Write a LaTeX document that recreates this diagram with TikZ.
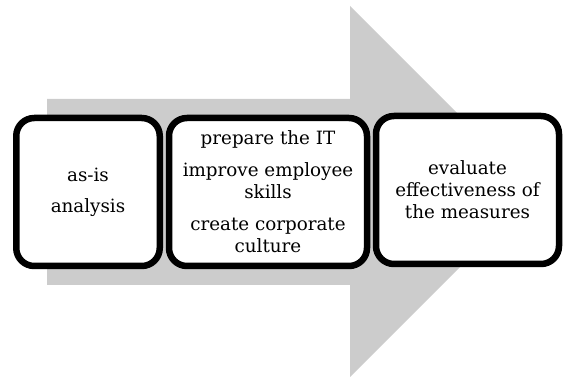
\documentclass[tikz,border=0pt]{standalone}
\usepackage{fontspec}
\setmainfont{DejaVu Serif}
\usetikzlibrary{positioning}
\definecolor{flowgray}{RGB}{204,204,204}

\begin{document}
\begin{tikzpicture}[
  x=1pt, y=-1pt,
  stage/.style={draw, line width=6.5pt, rounded corners=18pt, fill=white,
    minimum height=148pt, align=center, inner sep=0pt,
    font=\fontsize{18.3}{22}\selectfont},
]
  \useasboundingbox (0,0) rectangle (563,377);

  % big arrow behind the stages
  \fill[flowgray] (47,99) -- (350,99) -- (350,6) -- (535.5,191.5)
    -- (350,377) -- (350,285) -- (47,285) -- cycle;

  \node[stage, minimum width=143.5pt] (asis) at (88,192) {as-is\\[9pt]analysis};
  \node[stage, minimum width=198pt, right=2.75pt of asis] (improve)
    {prepare the IT\\[10pt]improve employee\\skills\\[10pt]create corporate\\culture};
  \node[stage, minimum width=183pt, right=2.5pt of improve, yshift=2pt] (evaluate)
    {evaluate\\effectiveness of\\the measures};
\end{tikzpicture}
\end{document}
